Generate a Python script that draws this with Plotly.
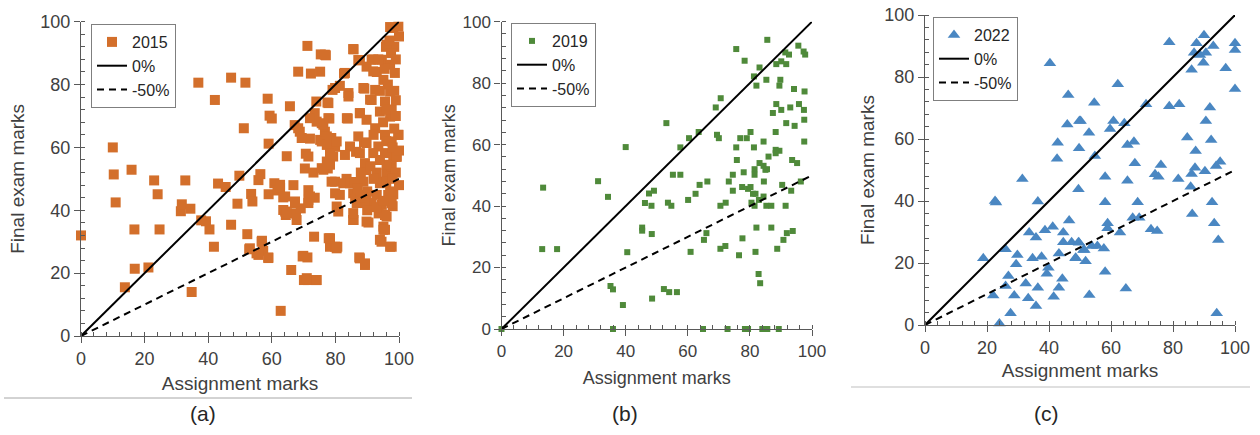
import plotly.graph_objects as go

# ---------------- data ----------------
a_x = [0, 10, 10.3, 10.9, 15.9, 16.8, 16.9, 13.8, 21.2, 23, 24.1, 24.7, 31.4, 31.7, 32.8, 34.4, 34.8, 36.9, 37.8, 39.3,
       40.4, 41.8, 42.1, 43.1, 45.5, 47.2, 47.2, 49.2, 49.8, 51.2, 51.7, 52.3, 52.9, 53.5, 53.9, 55.2, 55.8, 56.9, 57.3, 56.4,
       58.7, 59, 58.9, 59.3, 60, 60.8, 59, 61.8, 62.8, 62.6, 63.6, 64.7, 64.2, 64.4, 65.7, 66.1, 66.8, 67.2, 67.3, 67.6,
       67.8, 68.3, 68.8, 69.1, 69.7, 70.1, 70.4, 70.7, 71.2, 71.2, 71.2, 71.5, 71.5, 72, 72.3, 73.1, 73.3, 73.5, 74, 73.5,
       74, 75.2, 75.4, 75.2, 75.7, 77, 76.7, 77.5, 77.6, 77.9, 78.3, 78.1, 78.7, 79.1, 79.9, 79.9, 80.6, 80.9, 81.4, 82.7,
       83.5, 84.1, 83.9, 85.7, 85.7, 86.5, 87.2, 87.5, 87.7, 89.3, 89, 90.4, 89.8, 89.1, 91.4, 91.9, 89.8, 93.6, 94.5, 94.8,
       95.1, 95.6, 96.1, 95.9, 97.2, 99.8, 98.5, 97.7, 98, 98.2, 99.2, 99.8, 98.2, 96.1, 97.7,
       98.2, 100, 96.1, 85.6, 76.7, 91.4, 94.6, 97.2, 87.7, 91.9, 98.7, 83, 95.1, 79.9, 88.8, 92.5, 97.2, 84.1, 90.9, 95.6,
       77.8, 97.7, 94, 87.7, 83.6, 77.8, 97.2, 89.8, 76.2, 92.5, 87.2, 95.6, 99.8, 77.3, 79.9, 84.6, 89.8, 93.5, 97.7, 83,
       87.7, 91.9, 95.6, 99.3, 77.3, 79.3, 89.3, 96.1, 76.2, 78.8, 82.5, 88.8, 94.6, 97.2, 81.4, 85.6, 89.8, 93, 80.4, 86.7,
       91.4, 94.6, 85.6, 89.8, 95.6, 95.1, 78.3, 79.9, 94, 97.2, 87.7, 89.3,
       96.5, 98.5, 96, 99, 94, 97.5, 93, 99, 95, 98.5,
       75.7, 77.3, 74.1, 72, 68.3, 69.4, 78.3, 80.4, 78.3, 78.3, 75.7, 71.5,
       62.6, 64.2, 67.3, 63.6, 64.7, 72, 71.5, 84.6, 79.9, 86.2, 85.6, 89.3, 94, 96.6, 97.7, 56.8, 53.1, 55.8, 58.9, 80.4,
       69.9, 71, 74.1,
       96, 98, 100, 94, 99, 96, 93, 100, 98, 92, 99, 95.5, 93.5, 97,
       88, 91, 86, 90, 92, 88, 90, 87, 93, 95]
a_y = [32, 60, 51.4, 42.5, 52.9, 33.9, 21.4, 15.5, 21.8, 49.5, 45.1, 33.9, 39.7, 41.9, 49.5, 40.5, 14, 80.6, 36.8, 36.5,
       33.9, 28.4, 75.1, 48.5, 47.4, 82.2, 35.4, 42.1, 51, 66.1, 80.6, 32.4, 27.6, 45.2, 42.8, 26.3, 49.6, 30.3, 27.1, 51.5,
       75.5, 61.2, 24.8, 70.1, 69.2, 48.6, 45.1, 46.3, 8, 47.2, 44.1, 57.2, 39.6, 38.5, 73.1, 21, 48, 67.1, 42.2, 39,
       36.9, 84.1, 65, 40.6, 25.3, 17.8, 53.3, 58, 92.3, 25, 17.8, 46.4, 43.3, 62.8, 83.5, 52, 31.6, 44, 17.8, 70.9,
       74.6, 84.1, 89.6, 62.4, 67.7, 89.3, 65, 74.3, 53.3, 31.1, 28.4, 69.2, 63, 78.3, 60.2, 49.1, 28.4, 39.6, 79.6, 83.5,
       50, 77.3, 69.2, 91.2, 36.9, 58.6, 87.8, 25, 70.9, 23.1, 61.6, 36.1, 52.8, 78.7, 75.1, 88, 85.7, 39, 30, 48.8,
       34.8, 33.8, 38, 92, 98.3, 98.4, 92, 28.4, 41.3, 57, 57, 64, 45.1, 51.7, 53.9,
       98, 95.3, 92.7, 91.3, 89.5, 87.9, 87.9, 86.3, 87.7, 84.2, 83.7, 83.7, 81.5, 78.9, 78.9, 78.3, 77.8, 76.2, 75.2, 74.6,
       74.1, 72, 71.4, 70.9, 69.3, 69.3, 69.8, 68.8, 67.2, 66.1, 63.5, 64, 64, 63.5, 61.4, 60.3, 61.4, 60.3, 61.9, 57.6,
       58.2, 58.2, 58.2, 57.1, 55.5, 57.1, 55, 54.5, 52.9, 49.1, 48.6, 49.1, 49.1, 46, 44.9, 45.4, 44.9, 44.9, 41.2, 42.3,
       42.3, 41.7, 36.9, 36.4, 38.5, 33.8, 31.1, 28.4, 30.6, 28.4, 24.7, 22.6,
       80, 78, 72, 75, 78, 90, 84, 88, 68, 66,
       61.9, 60.8, 68.2, 69.3, 66.1, 63, 63, 61.9, 58.2, 54.5, 53.4, 57.1,
       48.1, 44.4, 42.8, 40.1, 39.1, 44.4, 42.3, 48.6, 45.4, 43.9, 39.1, 42.3, 48.6, 44.9, 42.3, 30, 27.9, 25.8, 25, 27.9,
       25.5, 18.4, 17.8,
       62, 60, 59, 56, 52, 49, 52, 48, 50, 64, 70, 85, 88, 94,
       52, 54, 49, 46, 50, 44, 40, 47, 41, 43]

b_x = [0, 13.4, 13.1, 17.9, 31.1, 34.3, 40, 35.1, 35.9, 35.9, 39.1, 40.5, 45.3, 45.3, 48.4, 47.5, 49.1, 46.2, 48.3, 48.5,
       53.1, 57.6, 60.4, 63.5, 69.4, 70, 69, 70.6, 75.6, 78.3, 85.6, 83.1, 81.3, 82.1, 85.3, 89.8, 89.5, 88.5, 90.1, 91.7,
       91.4, 92.6, 95.6, 97.3, 97.8, 94.2, 97.6, 88.5, 87.4, 90.1, 93, 95.8, 97.4, 97.5, 91.7, 94.4, 88.3, 80.2, 79, 76.9,
       75.6, 81.3, 84.4, 88.3, 89.5, 86, 75.8, 83.1, 81.5, 85.5, 88.3, 93.6, 95.2, 97.5, 84.4, 55.2, 57.6, 78, 74.5,
       63.8, 66.3, 73.2, 81.5, 84.5, 85, 53.6, 54.7, 60.1, 62.5, 74.5, 77.5, 79.4, 80.2, 81, 81.8, 84.4, 82.9, 80.5, 81.5,
       85.3, 86.9, 91.5, 90.4, 93.3, 96.4, 70.5, 72.2, 66, 65.2, 70.5, 72.1, 60.9, 76.5, 77.6, 82.1, 86.9, 81.8, 88.8, 90.8,
       91.9, 93.8, 82.8, 83.3, 52.3, 54, 56.5, 64.9, 72.8, 78.4, 79.4, 84, 85.6, 89.3]
b_y = [0, 46, 26, 26, 48.1, 43, 59.2, 14, 12.9, 0, 7.8, 25, 33, 32, 30.9, 44.1, 45, 41, 40.1, 9.9,
       67, 59.1, 62.1, 64.1, 63.2, 62.1, 72.1, 75.1, 91.1, 87.3, 94.1, 85.1, 82.2, 79.2, 81.1, 81.1, 79.2, 86.2, 87.1, 86.2,
       90, 89.3, 92.2, 90.3, 89.3, 78.1, 77.3, 73.2, 70.3, 71.3, 72.1, 73.2, 71.3, 68.1, 67, 66.1, 64.1, 64.1, 62.1, 62.1,
       59.1, 59.1, 61, 58.3, 58, 56.1, 55, 54, 52, 52, 57.2, 55, 54, 61, 53.1, 50.2, 50.2, 51, 50.2,
       46.9, 48, 48, 50.2, 48, 51.8, 41.1, 40.1, 42, 44, 45, 46.2, 45.6, 46.2, 44, 44, 43.1, 42, 41.1, 40.1,
       40.1, 40.1, 40.1, 46.9, 45, 48, 40.1, 41.1, 31.2, 29, 26.1, 27, 25.1, 24, 29.5, 33, 33, 25.1, 26.1, 29,
       31.2, 31.9, 17.9, 14.9, 13, 12, 12, 0, 0, 0, 0, 0, 0, 0]

c_x = [40.3, 26, 46.2, 45.9, 49.8, 42.8, 42.6, 49.7, 31.4, 22.6, 22.9, 36.4, 49.5, 46.5, 33.6, 35.8, 38.7, 41.2, 44.6, 44.6,
       47.3, 49.5, 51.1, 43.2, 48.6, 26, 18.8, 29.8, 29.4, 34.7, 37.6, 39.8, 39.3, 26.9, 26, 32.5, 36.4, 44.3, 43.2, 22,
       28.8, 33.3, 41.5, 35.8, 27.6, 24,
       78.8, 90, 87.6, 93, 86.8, 88.7, 90.6, 89.8, 100, 100, 86, 97, 100, 62.2, 54.6, 71.3, 78.8, 82, 91.9, 90.6,
       50.2, 60.8, 59.7, 64.3, 52.9, 65.3, 67.4, 84.6, 92.3, 87.3, 54.8, 67.7, 76.1, 74.2, 75.3, 58.1, 65.3, 81.7, 86, 87.1,
       90.3, 93.9, 95.2, 85.7, 58.1, 68.6, 92.6, 86.2, 67, 69.1, 58.9, 58.9, 62.9, 72.9, 74.9, 93.3, 94.6, 49.7, 53.8, 55.6,
       57.7, 51.4, 48.6, 51.8, 58.1, 64.8, 53, 94.1]
c_y = [84.4, 74.9, 74.2, 64.7, 65.8, 58.8, 53.6, 57, 47.1, 40, 39.5, 39.8, 43.8, 33.7, 29.8, 28.2, 30.6, 31.7, 29.8, 26.7,
       26.7, 26.7, 24.2, 23.1, 21.5, 24.4, 21.5, 22.6, 19.6, 21.5, 22, 18.5, 16.5, 15.8, 12.6, 13.4, 12, 14.9, 12, 9.5,
       9.5, 8.6, 9.1, 6.1, 3.8, 0.5,
       91.2, 93.5, 90.9, 90, 87.8, 87.1, 87.8, 84.6, 90.9, 88.7, 82.3, 82.8, 76.1, 77.7, 71.7, 71.2, 70.6, 71.2, 70.2, 65.8,
       65.8, 65.8, 63.2, 65.1, 62, 58.1, 59.1, 60.5, 59.7, 56.1, 54.5, 52.2, 51.6, 48.6, 47.8, 47.8, 46.5, 47.1, 48.7, 50.7,
       49.6, 51.3, 52.7, 44.6, 39.6, 39.6, 39.6, 35.8, 34.6, 34.6, 32.8, 31.2, 29.8, 30.9, 30.3, 32.8, 27.4, 26.5, 25.5, 25.5,
       24.7, 24.2, 21.7, 20.6, 17.2, 11.8, 9.7, 3.8]

series_names = ["2015", "2019", "2022"]
ref_x = [0, 100]
line_0pct = [0, 100]      # final = assignment
line_m50pct = [0, 50]     # final = 50% of assignment
x_ticks = [0, 20, 40, 60, 80, 100]
y_ticks = [0, 20, 40, 60, 80, 100]
captions = ["(a)", "(b)", "(c)"]

# ---------------- layout helpers ----------------
W, H = 1260, 435
FONT = "Liberation Sans, Arial, sans-serif"
AX = "#595959"
TXT = "#404040"


def fx(p):
    return p / W


def fy(p):
    return 1 - p / H


panels = [
    dict(x=a_x, y=a_y, name=series_names[0], symbol="square", size=10, color="#D36F2B",
         xd=(81, 399), yd=(336, 21.7), leg=(91, 24), tick=18, title=19, ystand=10, xstand=8),
    dict(x=b_x, y=b_y, name=series_names[1], symbol="square", size=6, color="#4F8A3A",
         xd=(501.5, 812), yd=(329, 21.7), leg=(511, 23), tick=17, title=18, ystand=2, xstand=11),
    dict(x=c_x, y=c_y, name=series_names[2], symbol="triangle-up", size=11, color="#4A87C2",
         xd=(925, 1235), yd=(325, 15), leg=(933, 17), tick=18, title=19, ystand=4, xstand=6),
]

fig = go.Figure()
layout = dict(width=W, height=H, margin=dict(l=0, r=0, t=0, b=0, autoexpand=False),
              paper_bgcolor="white", plot_bgcolor="white",
              font=dict(family=FONT, color=TXT), showlegend=True)

for i, p in enumerate(panels):
    sfx = "" if i == 0 else str(i + 1)
    xa, ya = "x" + sfx, "y" + sfx
    leg = "legend" + sfx
    fig.add_trace(go.Scatter(x=p["x"], y=p["y"], mode="markers", name=p["name"],
                             marker=dict(symbol=p["symbol"], size=p["size"], color=p["color"],
                                         line=dict(width=0)),
                             xaxis=xa, yaxis=ya, legend=leg, legendgroup=f"p{i}a",
                             cliponaxis=False))
    fig.add_trace(go.Scatter(x=ref_x, y=line_0pct, mode="lines", name="0%",
                             line=dict(color="black", width=2),
                             xaxis=xa, yaxis=ya, legend=leg, legendgroup=f"p{i}b"))
    fig.add_trace(go.Scatter(x=ref_x, y=line_m50pct, mode="lines", name="-50%",
                             line=dict(color="black", width=2, dash="7px,5px"),
                             xaxis=xa, yaxis=ya, legend=leg, legendgroup=f"p{i}c"))

    common = dict(range=[0, 100], tickvals=x_ticks, showline=True, linecolor=AX, linewidth=1.3,
                  ticks="outside", ticklen=6, tickcolor=AX, tickwidth=1.3, automargin=False,
                  minor=dict(dtick=4, tick0=0, ticks="inside", ticklen=4, tickcolor=AX, tickwidth=1),
                  showgrid=False, zeroline=False,
                  tickfont=dict(size=p["tick"], color=TXT, family=FONT))
    layout["xaxis" + sfx] = dict(common, domain=[fx(p["xd"][0]), fx(p["xd"][1])], anchor=ya,
                                 title=dict(text="Assignment marks", standoff=p["xstand"],
                                            font=dict(size=p["title"], color=TXT, family=FONT)))
    layout["yaxis" + sfx] = dict(common, tickvals=y_ticks,
                                 domain=[fy(p["yd"][0]), fy(p["yd"][1])], anchor=xa,
                                 title=dict(text="Final exam marks", standoff=p["ystand"],
                                            font=dict(size=p["title"], color=TXT, family=FONT)))
    layout[leg] = dict(x=fx(p["leg"][0]), y=fy(p["leg"][1]), xanchor="left", yanchor="top",
                       bordercolor="#7f7f7f", borderwidth=1, bgcolor="white",
                       tracegroupgap=0, itemwidth=30,
                       font=dict(size=16, color="#262626", family=FONT))

fig.update_layout(**layout)

cap_x = [203, 625, 1046]
for c, cx in zip(captions, cap_x):
    fig.add_annotation(text=c, x=fx(cx), y=fy(413), xref="paper", yref="paper",
                       xanchor="center", yanchor="middle",
                       showarrow=False, font=dict(size=21, color="#262626", family=FONT))

fig.add_shape(type="line", xref="paper", yref="paper", x0=fx(4), x1=fx(412), y0=fy(398), y1=fy(398),
              line=dict(color="#a6a6a6", width=1))
fig.add_shape(type="line", xref="paper", yref="paper", x0=fx(851), x1=fx(1250), y0=fy(387), y1=fy(387),
              line=dict(color="#bfbfbf", width=1))

# remove the default page margin so the figure sits at the window's top-left corner
fig.write_html("out.html", config={"displayModeBar": False},
               post_script="document.body.style.margin='0px';")
